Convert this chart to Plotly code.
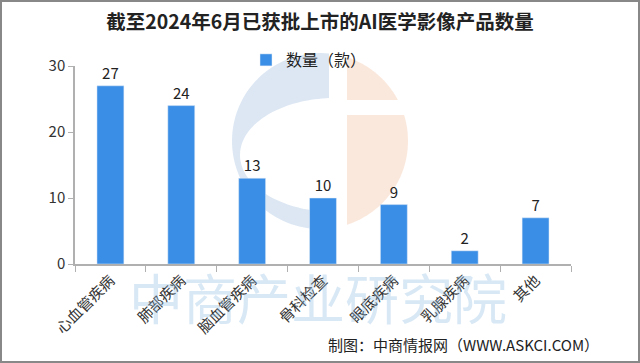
import numpy as np
import plotly.graph_objects as go

categories = ["心血管疾病", "肺部疾病", "脑血管疾病", "骨科检查", "眼底疾病", "乳腺疾病", "其他"]
values = [27, 24, 13, 10, 9, 2, 7]
series_name = "数量（款）"
title_text = "截至2024年6月已获批上市的AI医学影像产品数量"
source_text = "制图：中商情报网（WWW.ASKCI.COM）"
watermark_text = "中商产业研究院"

W, H = 640, 363
ml, mr, mt, mb = 75, 69, 66, 99
pw, ph = W - ml - mr, H - mt - mb

def px(x):
    return (x - ml) / pw

def py(y):
    return (H - mb - y) / ph

def path_from(points):
    return "M " + " L ".join(f"{px(x):.5f},{py(y):.5f}" for x, y in points) + " Z"

fig = go.Figure()
fig.add_trace(go.Bar(
    x=categories, y=values, name=series_name,
    marker=dict(color="#3a8ee6"),
    text=[str(v) for v in values], textposition="outside",
    textfont=dict(size=15, color="#222222"),
    cliponaxis=False,
))

fig.update_layout(
    width=W, height=H,
    margin=dict(l=ml, r=mr, t=mt, b=mb, autoexpand=False),
    paper_bgcolor="white", plot_bgcolor="rgba(0,0,0,0)",
    font=dict(family="Noto Sans CJK SC, sans-serif", color="#333333"),
    bargap=0.62,
    showlegend=True,
    legend=dict(orientation="h", x=px(246), y=py(60), xanchor="left", yanchor="middle",
                font=dict(size=16, color="#222222"), bgcolor="rgba(0,0,0,0)",
                itemwidth=30),
    title=dict(text="<b>" + title_text + "</b>", x=320 / W, xref="container", xanchor="center",
               y=1 - 22 / H, yref="container", yanchor="middle",
               font=dict(size=19.5, color="#222222", family="Noto Sans CJK SC, sans-serif")),
)

fig.update_yaxes(range=[0, 30], tickvals=[0, 10, 20, 30], showgrid=False,
                 showline=True, linecolor="#b0b0b0", linewidth=1.5,
                 ticks="outside", ticklen=5, tickcolor="#b0b0b0",
                 tickfont=dict(size=15, color="#333333"), zeroline=False, automargin=False)
fig.update_xaxes(showline=True, linecolor="#b0b0b0", linewidth=1.5,
                 ticks="outside", ticklen=6, tickcolor="#b0b0b0", tickson="boundaries",
                 tickangle=-45, tickfont=dict(size=15, color="#333333"), showgrid=False,
                 automargin=False)

# background logo (decoration)
cx, cy, r = 320.0, 141.0, 88.0
ex, ey, erx, ery = 335.0, 155.0, 95.0, 57.0
xb = 329.0
th0 = np.arccos((xb - cx) / r)
outer = [(cx + r * np.cos(a), cy - r * np.sin(a)) for a in np.linspace(th0, 2 * np.pi - th0, 80)]
ph0 = np.arccos((xb - ex) / erx)
inner = [(ex + erx * np.cos(a), ey - ery * np.sin(a)) for a in np.linspace(2 * np.pi - ph0, ph0, 80)]
fig.add_shape(type="path", xref="paper", yref="paper", path=path_from(outer + inner),
              fillcolor="rgba(205,221,238,0.7)", line=dict(width=0), layer="below")

xo = 347.0
def circ_y(x, sign):
    return cy + sign * np.sqrt(r * r - (x - cx) ** 2)
def circ_x(y):
    return cx + np.sqrt(r * r - (y - cy) ** 2)
band_top, band_bot = 100.0, 115.0
upper = [(xo, circ_y(xo, -1))] + [(circ_x(y), y) for y in np.linspace(circ_y(xo, -1), band_top, 40)] + [(xo, band_top)]
lower = [(xo, band_bot)] + [(circ_x(y), y) for y in np.linspace(band_bot, circ_y(xo, 1), 60)] + [(xo, circ_y(xo, 1))]
for pts in (upper, lower):
    fig.add_shape(type="path", xref="paper", yref="paper", path=path_from(pts),
                  fillcolor="rgba(250,224,208,0.75)", line=dict(width=0), layer="below")

# watermark text
fig.add_annotation(text=watermark_text, xref="paper", yref="paper",
                   x=px(318), y=py(296), xanchor="center", yanchor="middle", showarrow=False,
                   font=dict(size=54, color="rgba(140,185,225,0.33)"))

# source
fig.add_annotation(text=source_text, xref="paper", yref="paper",
                   x=px(601), y=py(344), xanchor="right", yanchor="middle", showarrow=False,
                   font=dict(size=15, color="#222222"))

# frame
fig.add_shape(type="rect", xref="paper", yref="paper",
              x0=px(1), x1=px(639), y0=py(362), y1=py(1),
              line=dict(color="#888888", width=2), layer="above")

fig.write_html("out.html", config={"displayModeBar": False},
               post_script="document.body.style.margin='0';document.body.style.overflow='hidden';")
